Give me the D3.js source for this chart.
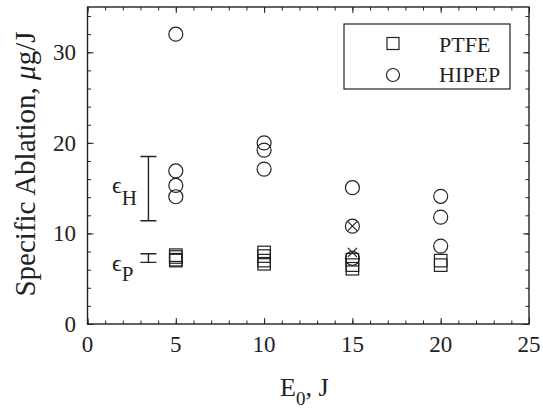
<!DOCTYPE html>
<html>
<head>
<meta charset="utf-8">
<script src="https://cdn.jsdelivr.net/npm/d3@7"></script>
<style>
  html, body { margin: 0; padding: 0; background: #fff; }
  svg { display: block; }
  text { font-family: "Liberation Serif", "Times New Roman", serif; fill: #222; }
</style>
</head>
<body>
<svg id="chart" width="543" height="413"></svg>
<script>
// Specific ablation measurements versus discharge energy
const ptfeE   = [5, 5, 5, 5, 10, 10, 10, 10, 15, 15, 15, 20, 20];
const ptfeVal = [7.6, 7.4, 7.1, 7.0, 7.9, 7.5, 7.0, 6.65, 7.1, 6.5, 6.1, 7.0, 6.5];

const hipepE   = [5, 5, 5, 5, 10, 10, 10, 15, 15, 15, 20, 20, 20];
const hipepVal = [32.0, 16.9, 15.3, 14.05, 20.0, 19.2, 17.1, 15.05, 10.8, 7.25, 14.1, 11.8, 8.6];

// points flagged with a cross
const crossE   = [15, 15];
const crossVal = [10.8, 7.9];

// model ranges for the two propellants
const rangeNames = ["H", "P"];
const rangeE     = [3.45, 3.45];
const rangeLow   = [11.4, 6.8];
const rangeHigh  = [18.5, 7.75];

const xTicks = [0, 5, 10, 15, 20, 25];
const yTicks = [0, 10, 20, 30];
const legendNames = ["PTFE", "HIPEP"];

const ink = "#222";
const svg = d3.select("#chart");
const m = { left: 87.5, right: 529, top: 7, bottom: 324 };

const x = d3.scaleLinear().domain([0, 25]).range([m.left, m.right]);
const y = d3.scaleLinear().domain([0, 35]).range([m.bottom, m.top]);

// frame
svg.append("rect")
  .attr("x", m.left).attr("y", m.top)
  .attr("width", m.right - m.left).attr("height", m.bottom - m.top)
  .attr("fill", "none").attr("stroke", ink).attr("stroke-width", 1.4);

// inward ticks on all four sides
const major = 6, minor = 3.5;
const xMinor = d3.range(0, 25.01, 1);
const yMinor = d3.range(0, 35.01, 2);
function tickAxis(axisFn, scale, vals, len, transform) {
  const g = svg.append("g").attr("transform", transform)
    .call(axisFn(scale).tickValues(vals).tickSize(len).tickFormat(""));
  g.select(".domain").remove();
  g.selectAll("line").attr("stroke", ink).attr("stroke-width", 1);
}
tickAxis(d3.axisTop,    x, xMinor, minor, `translate(0,${m.bottom})`);
tickAxis(d3.axisTop,    x, xTicks, major, `translate(0,${m.bottom})`);
tickAxis(d3.axisBottom, x, xMinor, minor, `translate(0,${m.top})`);
tickAxis(d3.axisBottom, x, xTicks, major, `translate(0,${m.top})`);
tickAxis(d3.axisRight,  y, yMinor, minor, `translate(${m.left},0)`);
tickAxis(d3.axisRight,  y, yTicks, major, `translate(${m.left},0)`);
tickAxis(d3.axisLeft,   y, yMinor, minor, `translate(${m.right},0)`);
tickAxis(d3.axisLeft,   y, yTicks, major, `translate(${m.right},0)`);

// tick labels
svg.append("g").selectAll("text").data(xTicks).join("text")
  .attr("x", d => x(d)).attr("y", 352)
  .attr("text-anchor", "middle").attr("font-size", 23)
  .text(d => d);
svg.append("g").selectAll("text").data(yTicks).join("text")
  .attr("x", 76).attr("y", d => y(d) + 8)
  .attr("text-anchor", "end").attr("font-size", 23)
  .text(d => d);

// axis titles
const xt = svg.append("text").attr("x", 280).attr("y", 396).attr("font-size", 26);
xt.append("tspan").text("E");
xt.append("tspan").attr("font-size", 19).attr("dy", 9).text("0");
xt.append("tspan").attr("dy", -9).text(", J");

const yt = svg.append("text")
  .attr("transform", "translate(35,164) rotate(-90)")
  .attr("text-anchor", "middle").attr("font-size", 29);
yt.append("tspan").text("Specific Ablation, ");
yt.append("tspan").attr("font-style", "italic").text("μ");
yt.append("tspan").text("g/J");

// markers
const sq = 12.5, r = 7;
const plot = svg.append("g").attr("fill", "none").attr("stroke", ink).attr("stroke-width", 1.2);

plot.selectAll("rect.ptfe").data(d3.zip(ptfeE, ptfeVal)).join("rect")
  .attr("class", "ptfe")
  .attr("x", d => x(d[0]) - sq / 2).attr("y", d => y(d[1]) - sq / 2)
  .attr("width", sq).attr("height", sq);

plot.selectAll("circle.hipep").data(d3.zip(hipepE, hipepVal)).join("circle")
  .attr("class", "hipep")
  .attr("cx", d => x(d[0])).attr("cy", d => y(d[1])).attr("r", r);

const cr = 4.5;
plot.selectAll("path.cross").data(d3.zip(crossE, crossVal)).join("path")
  .attr("class", "cross")
  .attr("d", d => {
    const cx = x(d[0]), cy = y(d[1]);
    return `M${cx - cr},${cy - cr}L${cx + cr},${cy + cr}M${cx - cr},${cy + cr}L${cx + cr},${cy - cr}`;
  });

// range bars with labels
const cap = 8;
rangeNames.forEach((name, i) => {
  const bx = x(rangeE[i]), y0 = y(rangeLow[i]), y1 = y(rangeHigh[i]);
  plot.append("path")
    .attr("d", `M${bx},${y0}L${bx},${y1}M${bx - cap},${y0}L${bx + cap},${y0}M${bx - cap},${y1}L${bx + cap},${y1}`)
    .attr("stroke-width", 1.4);
});
const labH = svg.append("text").attr("x", 112).attr("y", 193).attr("font-size", 24);
labH.append("tspan").text("ϵ");
labH.append("tspan").attr("font-size", 21).attr("dy", 12).text("H");
const labP = svg.append("text").attr("x", 112).attr("y", 271).attr("font-size", 24);
labP.append("tspan").text("ϵ");
labP.append("tspan").attr("font-size", 21).attr("dy", 10).text("P");

// legend
const lg = svg.append("g");
lg.append("rect").attr("x", 344).attr("y", 24).attr("width", 166).attr("height", 65)
  .attr("fill", "#fff").attr("stroke", ink).attr("stroke-width", 1.2);
lg.append("rect").attr("x", 393 - 6).attr("y", 43.5 - 6).attr("width", 12).attr("height", 12)
  .attr("fill", "none").attr("stroke", ink).attr("stroke-width", 1.2);
lg.append("circle").attr("cx", 393).attr("cy", 75).attr("r", 6.5)
  .attr("fill", "none").attr("stroke", ink).attr("stroke-width", 1.2);
lg.selectAll("text").data(legendNames).join("text")
  .attr("x", 439).attr("y", (d, i) => 51.5 + i * 30)
  .attr("font-size", 22).text(d => d);
</script>
</body>
</html>
